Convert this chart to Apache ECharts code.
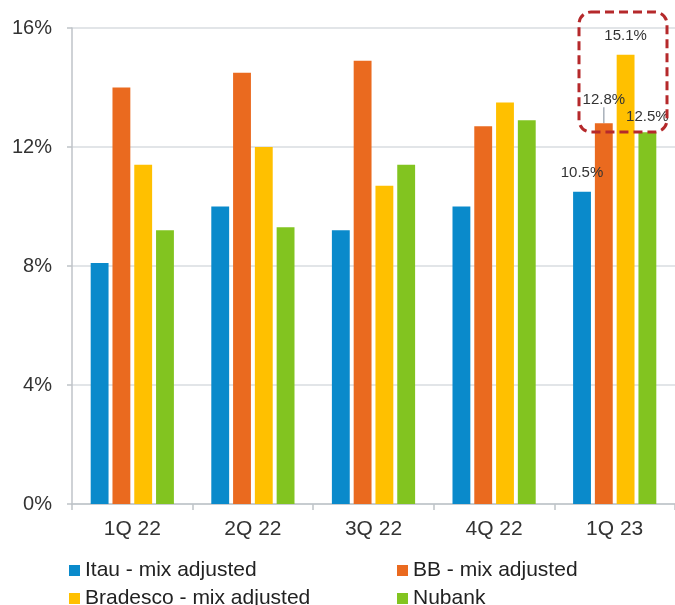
<!DOCTYPE html>
<html>
<head>
<meta charset="utf-8">
<script src="https://cdn.jsdelivr.net/npm/echarts@6/dist/echarts.min.js"></script>
<style>
  html, body { margin: 0; padding: 0; background: #fff; }
  #chart { width: 675px; height: 605px; }
</style>
</head>
<body>
<div id="chart"></div>
<script>
// quarters
var categories = ['1Q 22', '2Q 22', '3Q 22', '4Q 22', '1Q 23'];
var yTicks = [0, 4, 8, 12, 16];

// values in %
var itau = [8.1, 10.0, 9.2, 10.0, 10.5];
var bb = [14.0, 14.5, 14.9, 12.7, 12.8];
var bradesco = [11.4, 12.0, 10.7, 13.5, 15.1];
var nubank = [9.2, 9.3, 11.4, 12.9, 12.5];

var names = ['Itau - mix adjusted', 'BB - mix adjusted', 'Bradesco - mix adjusted', 'Nubank'];
var colors = ['#0A8ACB', '#EA6A1F', '#FFC000', '#82C420'];

var myChart = echarts.init(document.getElementById('chart'));
window.onresize = myChart.resize;

// only last quarter gets a label
function withLastLabel(arr, dist) {
    return arr.map(function (v, i) {
        if (i !== arr.length - 1) return v;
        return {
            value: v,
            label: {
                show: true,
                position: 'top',
                distance: dist,
                formatter: function (p) { return p.value.toFixed(1) + '%'; },
                color: '#333',
                fontSize: 15,
                fontFamily: 'Liberation Sans'
            }
        };
    });
}

function makeSeries(idx, arr, dist) {
    return {
        name: names[idx],
        type: 'bar',
        barGap: '22%',
        barCategoryGap: '31%',
        itemStyle: { color: colors[idx] },
        data: withLastLabel(arr, dist)
    };
}

var bbSeries = makeSeries(1, bb, 3);
bbSeries.labelLayout = { dy: -13 };
bbSeries.labelLine = { show: true, lineStyle: { color: '#A8B0BA', width: 1.5 }, length2: 0 };

// one legend per item, laid out as 2x2
function legendItem(idx, left, top) {
    return {
        data: [names[idx]],
        left: left, top: top,
        padding: 0,
        itemWidth: 11, itemHeight: 11,
        icon: 'rect',
        textStyle: { fontSize: 21, color: '#222' }
    };
}

var option = {
    animation: false,
    textStyle: { fontFamily: 'Liberation Sans' },
    grid: { left: 72, top: 28, width: 607, height: 476, containLabel: false },
    legend: [
        legendItem(0, 69, 560),
        legendItem(1, 397, 560),
        legendItem(2, 69, 588),
        legendItem(3, 397, 588)
    ],
    xAxis: {
        type: 'category',
        data: categories,
        axisLine: { lineStyle: { color: '#BFC3C8', width: 1.5 } },
        axisTick: { show: true, length: 6, lineStyle: { color: '#BFC3C8', width: 1.5 } },
        axisLabel: { fontSize: 21, color: '#333', margin: 15 }
    },
    yAxis: {
        type: 'value',
        min: yTicks[0],
        max: yTicks[yTicks.length - 1],
        interval: 4,
        axisLine: { show: true, lineStyle: { color: '#BFC3C8', width: 1.5 } },
        axisTick: { show: true, length: 5, lineStyle: { color: '#BFC3C8', width: 1.5 } },
        splitLine: { lineStyle: { color: '#D9DCE0', width: 1.5 } },
        axisLabel: { fontSize: 20, color: '#333', margin: 20, formatter: '{value}%' }
    },
    graphic: [
        {
            type: 'rect',
            shape: { x: 579, y: 12, width: 88, height: 120, r: 12 },
            style: { fill: 'none', stroke: '#B5292B', lineWidth: 3, lineDash: [9, 5] },
            z: 100
        }
    ],
    series: [
        makeSeries(0, itau, 11),
        bbSeries,
        makeSeries(2, bradesco, 11),
        makeSeries(3, nubank, 8)
    ]
};

myChart.setOption(option);
</script>
</body>
</html>
